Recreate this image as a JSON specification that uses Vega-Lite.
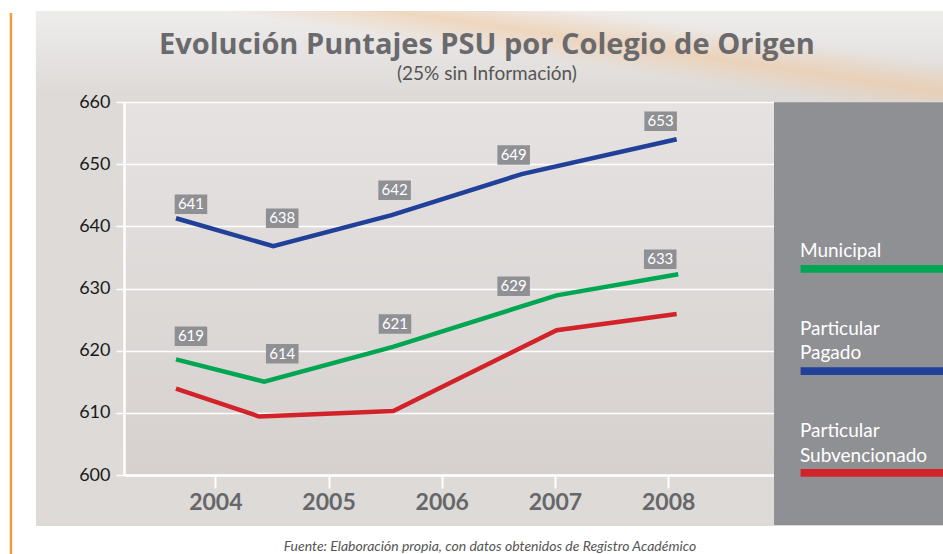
{
  "$schema": "https://vega.github.io/schema/vega-lite/v6.json",
  "width": 650,
  "height": 373,
  "autosize": {"type": "none"},
  "padding": {"left": 124, "top": 102, "right": 169, "bottom": 79},
  "background": "#dddad8",
  "view": {"stroke": null, "fill": {"gradient": "linear", "x1": 0, "y1": 0, "x2": 0, "y2": 1, "stops": [{"offset": 0, "color": "#e5e2e1"}, {"offset": 1, "color": "#d6d1cf"}]}},
  "config": {"font": "Lato"},
  "datasets": {
    "series": [
      {"serie": "Particular Pagado", "year": 2004, "pos": 2003.652, "score": 641.3, "label": "641"},
      {"serie": "Particular Pagado", "year": 2005, "pos": 2004.511, "score": 636.8, "label": "638"},
      {"serie": "Particular Pagado", "year": 2006, "pos": 2005.557, "score": 641.8, "label": "642"},
      {"serie": "Particular Pagado", "year": 2007, "pos": 2006.706, "score": 648.4, "label": "649"},
      {"serie": "Particular Pagado", "year": 2008, "pos": 2008.075, "score": 654.0, "label": "653"},
      {"serie": "Municipal", "year": 2004, "pos": 2003.652, "score": 618.6, "label": "619"},
      {"serie": "Municipal", "year": 2005, "pos": 2004.432, "score": 615.0, "label": "614"},
      {"serie": "Municipal", "year": 2006, "pos": 2005.569, "score": 620.6, "label": "621"},
      {"serie": "Municipal", "year": 2007, "pos": 2007.015, "score": 628.9, "label": "629"},
      {"serie": "Municipal", "year": 2008, "pos": 2008.089, "score": 632.3, "label": "633"},
      {"serie": "Particular Subvencionado", "year": 2004, "pos": 2003.652, "score": 613.9, "label": null},
      {"serie": "Particular Subvencionado", "year": 2005, "pos": 2004.388, "score": 609.4, "label": null},
      {"serie": "Particular Subvencionado", "year": 2006, "pos": 2005.572, "score": 610.3, "label": null},
      {"serie": "Particular Subvencionado", "year": 2007, "pos": 2007.015, "score": 623.3, "label": null},
      {"serie": "Particular Subvencionado", "year": 2008, "pos": 2008.075, "score": 625.9, "label": null}
    ]
  },
  "layer": [
    {
      "data": {"values": [{}]},
      "mark": {"type": "rect", "fill": "#ffffff"},
      "encoding": {"x": {"datum": 2002.09}, "x2": {"datum": 2010.43}, "y": {"datum": 676.5}, "y2": {"datum": 674.64}}
    },
    {
      "data": {"values": [{}]},
      "mark": {"type": "rect", "fill": "#ffffff"},
      "encoding": {"x": {"datum": 2002.09}, "x2": {"datum": 2002.415}, "y": {"datum": 676.5}, "y2": {"datum": 587.2}}
    },
    {
      "data": {"values": [{}]},
      "mark": {"type": "rect", "fill": "#ffffff"},
      "encoding": {"x": {"datum": 2002.09}, "x2": {"datum": 2010.43}, "y": {"datum": 591.8}, "y2": {"datum": 587.2}}
    },
    {
      "data": {"values": [{}]},
      "mark": {"type": "rect", "fill": {"gradient": "linear", "x1": 0, "y1": 0, "x2": 0, "y2": 1, "stops": [{"offset": 0, "color": "#efedec"}, {"offset": 1, "color": "#dddad8"}]}},
      "encoding": {"x": {"datum": 2002.415}, "x2": {"datum": 2010.428}, "y": {"datum": 674.64}, "y2": {"datum": 661.29}}
    },
    {
      "data": {"values": [{}]},
      "mark": {"type": "rect", "fill": {"gradient": "linear", "x1": 0.46, "y1": 0.615, "x2": 0.92, "y2": 0.305, "stops": [{"offset": 0, "color": "rgba(240,198,155,0)"}, {"offset": 0.22, "color": "rgba(240,198,155,0)"}, {"offset": 0.52, "color": "rgba(240,198,155,0.55)"}, {"offset": 0.85, "color": "rgba(240,198,155,0)"}, {"offset": 1, "color": "rgba(240,198,155,0)"}]}},
      "encoding": {"x": {"datum": 2002.415}, "x2": {"datum": 2010.428}, "y": {"datum": 674.64}, "y2": {"datum": 660.13}}
    },
    {
      "data": {"values": [{}]},
      "mark": {"type": "rect", "fill": "#8f9094"},
      "encoding": {"x": {"datum": 2008.935}, "x2": {"datum": 2010.428}, "y": {"datum": 659.95}, "y2": {"datum": 591.95}}
    },
    {
      "data": {"values": [{}]},
      "mark": {"type": "rule", "color": "#f39a3d", "strokeWidth": 2.5},
      "encoding": {"x": {"datum": 2002.194}, "y": {"datum": 674.3}, "y2": {"datum": 587.2}}
    },
    {
      "data": {"values": [{}]},
      "mark": {"type": "text", "text": "Evolución Puntajes PSU por Colegio de Origen", "font": "Open Sans", "fontSize": 29, "fontWeight": "bold", "color": "#6a6a6d", "align": "center", "baseline": "alphabetic"},
      "encoding": {"x": {"datum": 2006.399}, "y": {"datum": 667.72}}
    },
    {
      "data": {"values": [{}]},
      "mark": {"type": "text", "text": "(25% sin Información)", "font": "Lato", "fontSize": 19, "color": "#555555", "align": "center", "baseline": "alphabetic"},
      "encoding": {"x": {"datum": 2006.399}, "y": {"datum": 663.54}}
    },
    {
      "data": {"name": "series"},
      "mark": {"type": "line", "strokeWidth": 4.5},
      "encoding": {
        "x": {
          "field": "pos", "type": "quantitative",
          "scale": {"domain": [2003.193, 2008.935], "nice": false, "zero": false},
          "axis": {"title": null, "values": [2004, 2005, 2006, 2007, 2008], "format": "d", "grid": false,
            "domainColor": "#ffffff", "domainWidth": 2.5, "tickColor": "#ffffff", "tickSize": 13, "tickWidth": 2,
            "labelFont": "Lato", "labelFontSize": 23, "labelFontWeight": "bold", "labelColor": "#66676a", "labelPadding": 3, "labelFlush": false}
        },
        "y": {
          "field": "score", "type": "quantitative",
          "scale": {"domain": [600, 660], "nice": false, "zero": false},
          "axis": {"title": null, "values": [600, 610, 620, 630, 640, 650, 660], "grid": true, "gridColor": "#ffffff", "gridWidth": 1.5, "gridOpacity": 1,
            "domainColor": "#ffffff", "domainWidth": 2.5, "tickColor": "#ffffff", "tickSize": 8, "tickWidth": 1.5,
            "labelFont": "Lato", "labelFontSize": 18, "labelColor": "#1a1a1a", "labelPadding": 6}
        },
        "color": {"field": "serie", "type": "nominal", "scale": {"domain": ["Municipal", "Particular Pagado", "Particular Subvencionado"], "range": ["#00a651", "#21409a", "#d2232a"]}, "legend": null},
        "order": {"field": "pos"}
      }
    },
    {
      "data": {"name": "series"},
      "transform": [{"filter": "datum.label != null"}],
      "mark": {"type": "point", "shape": "M-1.67,-1L1.67,-1L1.67,1L-1.67,1Z", "size": 380, "filled": true, "fill": "#8f9094", "opacity": 1, "strokeWidth": 0,
        "xOffset": {"expr": "(datum.serie == 'Municipal' ? [15,18,2,-43,-18] : [15,9,3,-8,-16])[datum.year - 2004]"},
        "yOffset": {"expr": "(datum.serie == 'Municipal' ? [-23,-28,-23,-9,-15] : [-14,-28,-25,-19,-18])[datum.year - 2004]"}},
      "encoding": {"x": {"field": "pos", "type": "quantitative"}, "y": {"field": "score", "type": "quantitative"}}
    },
    {
      "data": {"name": "series"},
      "transform": [{"filter": "datum.label != null"}],
      "mark": {"type": "text", "font": "Lato", "fontSize": 15, "color": "#ffffff", "align": "center", "baseline": "middle",
        "xOffset": {"expr": "(datum.serie == 'Municipal' ? [15,18,2,-43,-18] : [15,9,3,-8,-16])[datum.year - 2004]"},
        "yOffset": {"expr": "(datum.serie == 'Municipal' ? [-23,-28,-23,-9,-15] : [-14,-28,-25,-19,-18])[datum.year - 2004]"}},
      "encoding": {"x": {"field": "pos", "type": "quantitative"}, "y": {"field": "score", "type": "quantitative"}, "text": {"field": "label"}}
    },
    {
      "data": {"values": [{}]},
      "mark": {"type": "text", "text": "Municipal", "font": "Lato", "fontSize": 19, "color": "#ffffff", "align": "left", "baseline": "alphabetic"},
      "encoding": {"x": {"datum": 2009.164}, "y": {"datum": 635.12}}
    },
    {
      "data": {"values": [{}]},
      "mark": {"type": "text", "text": ["Particular", "Pagado"], "lineHeight": 24, "font": "Lato", "fontSize": 19, "color": "#ffffff", "align": "left", "baseline": "alphabetic"},
      "encoding": {"x": {"datum": 2009.164}, "y": {"datum": 622.52}}
    },
    {
      "data": {"values": [{}]},
      "mark": {"type": "text", "text": ["Particular", "Subvencionado"], "lineHeight": 25, "font": "Lato", "fontSize": 19, "color": "#ffffff", "align": "left", "baseline": "alphabetic"},
      "encoding": {"x": {"datum": 2009.164}, "y": {"datum": 606.16}}
    },
    {
      "data": {"values": [{}]},
      "mark": {"type": "rule", "strokeWidth": 7.7, "strokeCap": "butt"},
      "encoding": {"x": {"datum": 2009.17}, "x2": {"datum": 2010.428}, "y": {"datum": 633.15}, "color": {"datum": "Municipal", "type": "nominal"}}
    },
    {
      "data": {"values": [{}]},
      "mark": {"type": "rule", "strokeWidth": 7.7, "strokeCap": "butt"},
      "encoding": {"x": {"datum": 2009.17}, "x2": {"datum": 2010.428}, "y": {"datum": 616.7}, "color": {"datum": "Particular Pagado", "type": "nominal"}}
    },
    {
      "data": {"values": [{}]},
      "mark": {"type": "rule", "strokeWidth": 7.7, "strokeCap": "butt"},
      "encoding": {"x": {"datum": 2009.17}, "x2": {"datum": 2010.428}, "y": {"datum": 600.34}, "color": {"datum": "Particular Subvencionado", "type": "nominal"}}
    },
    {
      "data": {"values": [{}]},
      "mark": {"type": "text", "text": "Fuente: Elaboración propia, con datos obtenidos de Registro Académico", "font": "Lato", "fontSize": 14, "fontStyle": "italic", "color": "#555555", "align": "center", "baseline": "middle"},
      "encoding": {"x": {"datum": 2006.426}, "y": {"datum": 588.47}}
    }
  ]
}
